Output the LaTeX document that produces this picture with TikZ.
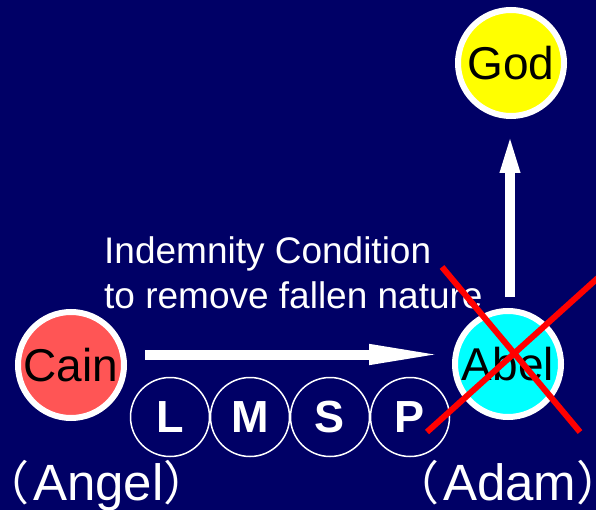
\documentclass[tikz,border=0pt]{standalone}
\usepackage{fontspec}
\setmainfont{Liberation Sans}
\newfontfamily\cjk{Noto Sans CJK JP}
\usetikzlibrary{arrows.meta}
\definecolor{navy}{RGB}{0,0,102}
\definecolor{cainred}{RGB}{255,85,85}
\definecolor{abelcyan}{RGB}{0,255,255}
\definecolor{godyellow}{RGB}{255,255,0}
\tikzset{
  person/.style={circle, draw=white, line width=6pt, minimum size=106pt, inner sep=0pt,
    text=black, font=\fontsize{46}{50}\selectfont},
  letter/.style={circle, draw=white, line width=1.5pt, minimum size=79pt, inner sep=0pt,
    text=white, font=\fontsize{45}{50}\selectfont\bfseries},
  label/.style={anchor=base west, inner sep=0pt, text=white},
  fatarrow/.style={draw=white, line width=10pt},
  cross/.style={draw=red, line width=6pt}
}
\newcommand{\lpar}{{\cjk\fontsize{47}{50}\selectfont （}\kern4pt}
\newcommand{\rpar}{{\cjk\fontsize{47}{50}\selectfont ）}}
\begin{document}
\begin{tikzpicture}[x=1pt,y=-1pt]
\useasboundingbox[fill=navy] (0,0) rectangle (596,510);
\path node[person, fill=cainred] (cain) at (71,365) {Cain}
node[person, fill=abelcyan] (abel) at (508,364) {Abel}
node[person, fill=godyellow] (god) at (511,63) {God}
node[letter] (L) at (170,417) {L}
node[letter] (M) at (250,417) {M}
node[letter] (S) at (330,417) {S}
node[letter] (P) at (410,417) {P}
node[label, font=\fontsize{37}{40}\selectfont] (cond1) at (104,264) {Indemnity Condition}
node[label, font=\fontsize{37}{40}\selectfont] (cond2) at (104,308) {to remove fallen nature}
node[label, font=\fontsize{51}{54}\selectfont] (angel) at (-18,500) {\lpar Angel\rpar}
node[label, font=\fontsize{51}{54}\selectfont] (adam) at (392,500) {\lpar Adam\rpar}
;
\draw[fatarrow, -{Triangle[length=78pt, width=18pt]}] ([shift={(18,-10.5)}]cain.east) -- ([shift={(-5,-9.5)}]abel.west);
\draw[fatarrow, -{Triangle[length=43pt, width=17pt]}] ([shift={(2,-11)}]abel.north) -- ([shift={(-1,11)}]god.south);
\draw[cross] (442,267) -- (580,432);
\draw[cross] (427,432) -- (600,276);
\end{tikzpicture}
\end{document}
